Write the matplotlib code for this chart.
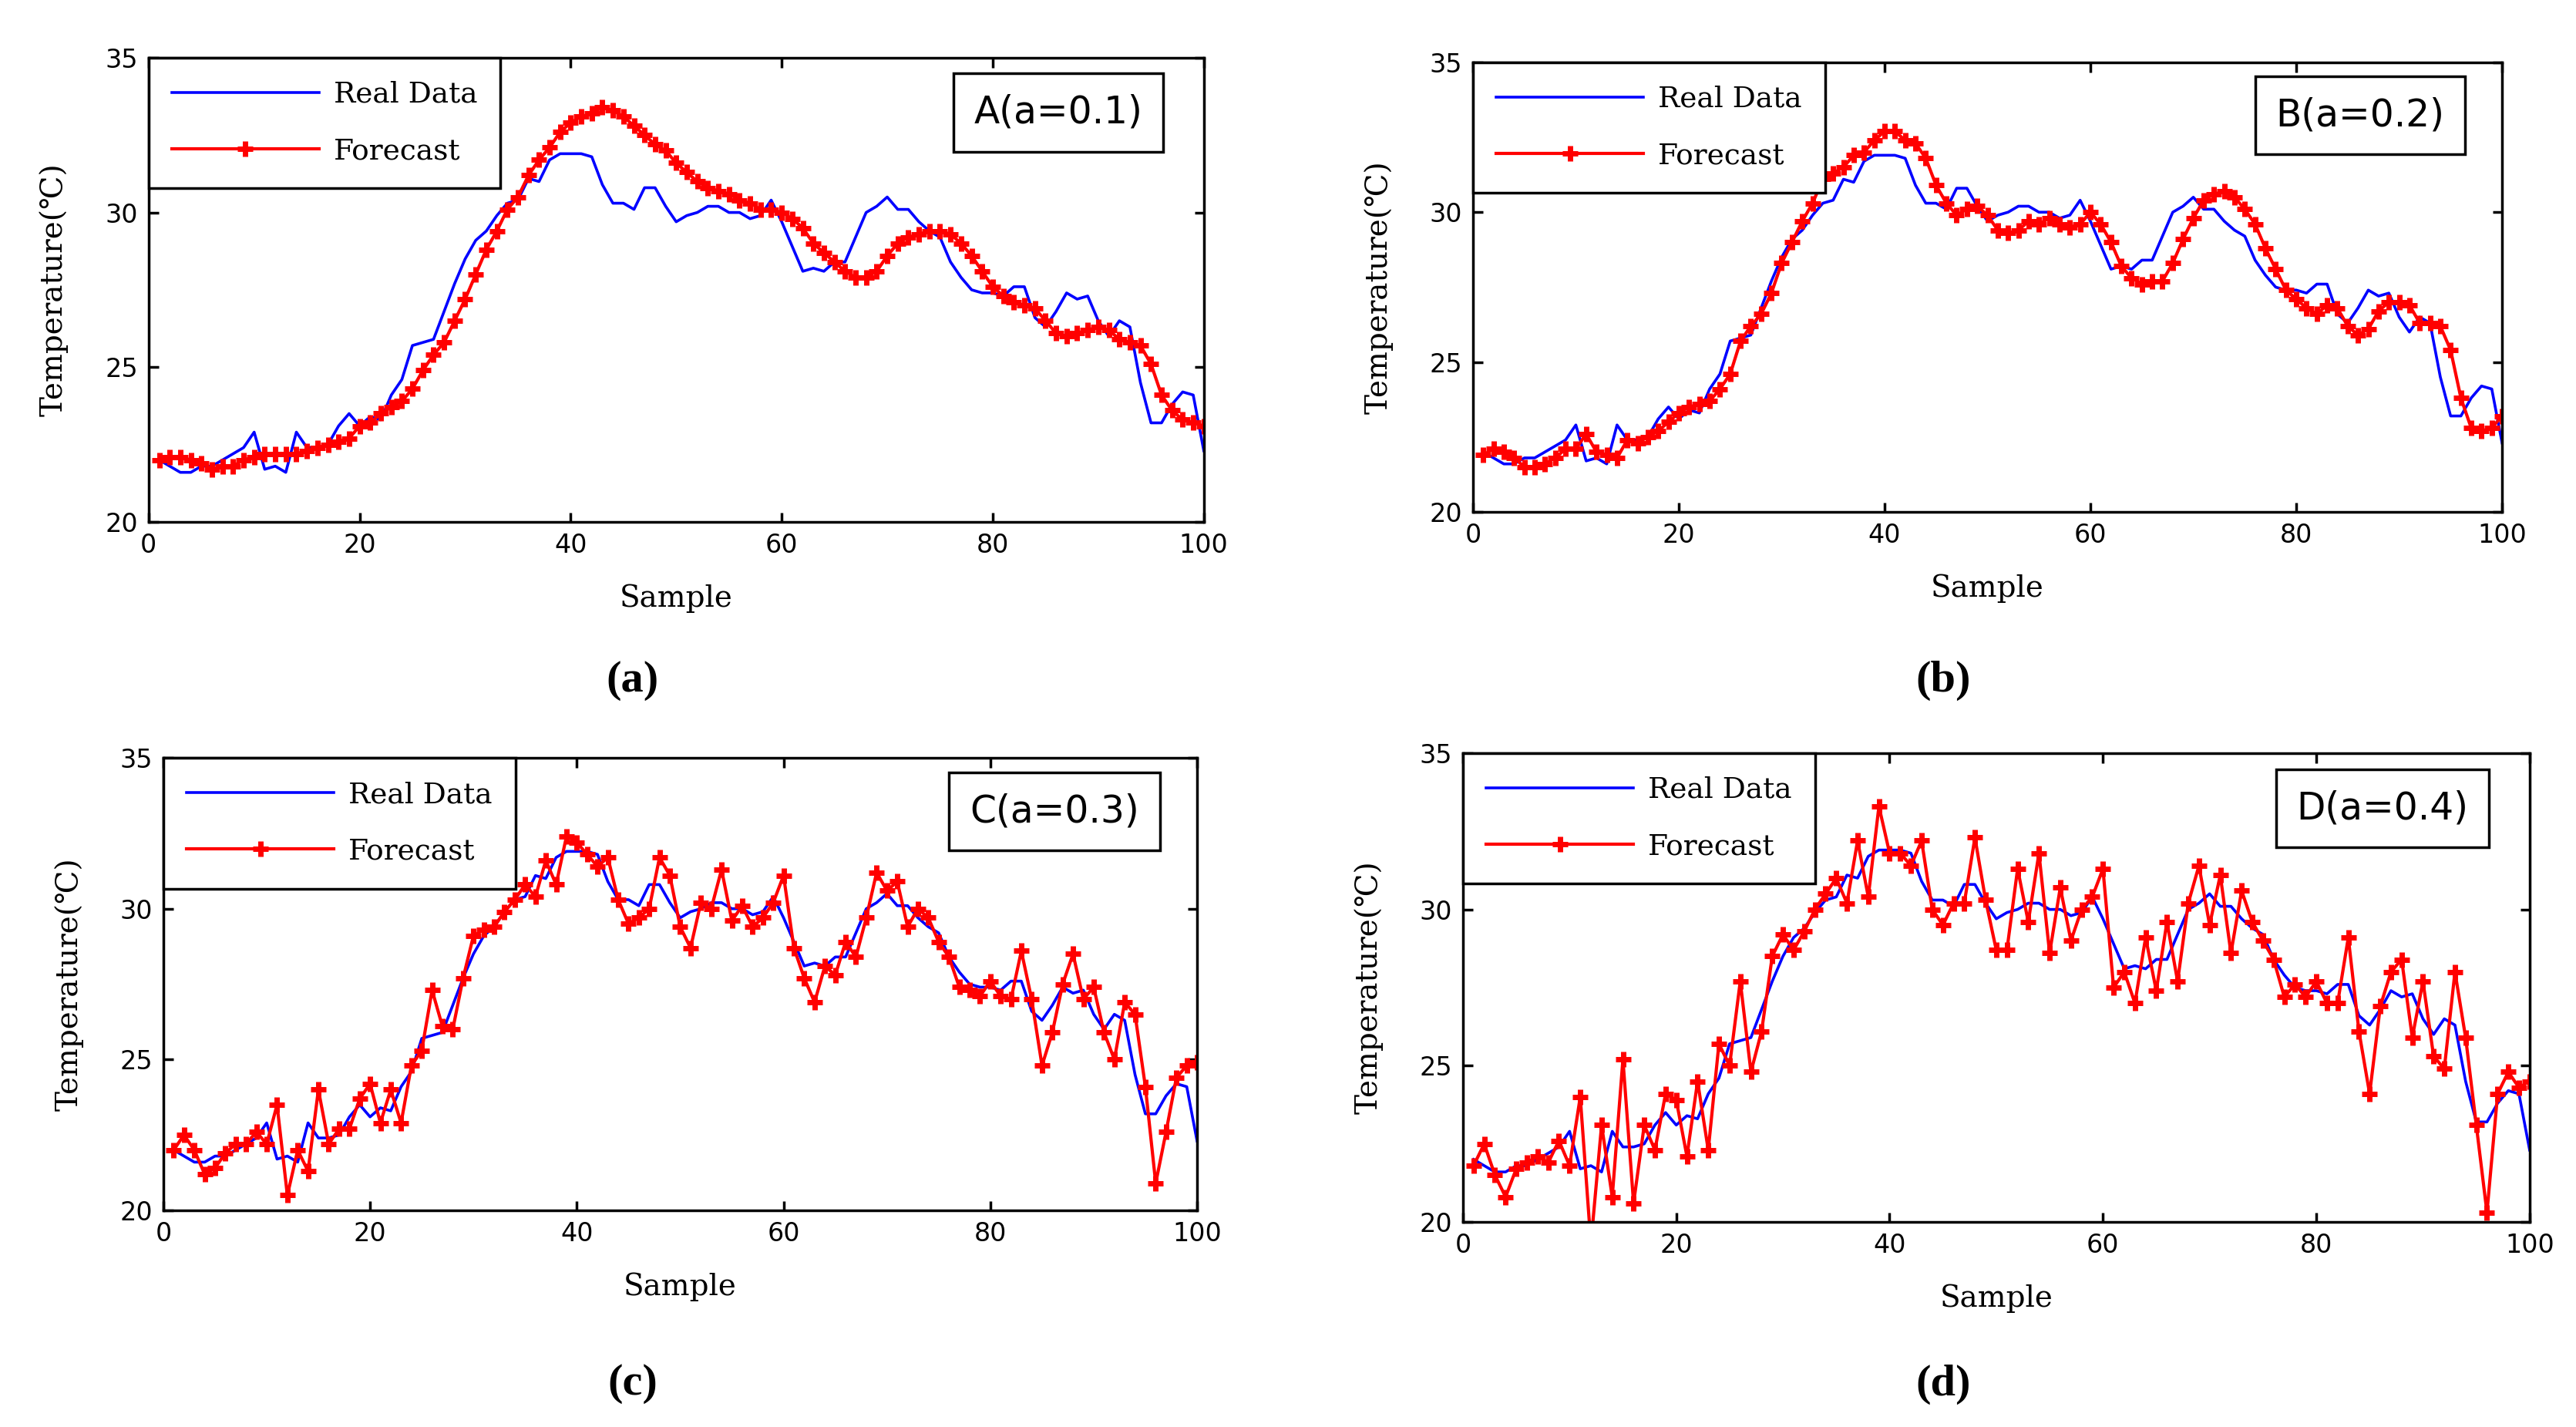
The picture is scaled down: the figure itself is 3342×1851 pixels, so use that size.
import numpy as np
import matplotlib
matplotlib.use("Agg")
import matplotlib.pyplot as plt

sample = np.arange(1, 101)

real_data = [
    22.0, 21.8, 21.6, 21.6, 21.8, 21.8, 22.0, 22.2, 22.4, 22.9,
    21.7, 21.8, 21.6, 22.9, 22.4, 22.4, 22.5, 23.1, 23.5, 23.1,
    23.4, 23.3, 24.1, 24.6, 25.7, 25.8, 25.9, 26.8, 27.7, 28.5,
    29.1, 29.4, 29.9, 30.3, 30.4, 31.1, 31.0, 31.7, 31.9, 31.9,
    31.9, 31.8, 30.9, 30.3, 30.3, 30.1, 30.8, 30.8, 30.2, 29.7,
    29.9, 30.0, 30.2, 30.2, 30.0, 30.0, 29.8, 29.9, 30.4, 29.7,
    28.9, 28.1, 28.2, 28.1, 28.4, 28.4, 29.2, 30.0, 30.2, 30.5,
    30.1, 30.1, 29.7, 29.4, 29.2, 28.4, 27.9, 27.5, 27.4, 27.4,
    27.3, 27.6, 27.6, 26.6, 26.3, 26.8, 27.4, 27.2, 27.3, 26.5,
    26.0, 26.5, 26.3, 24.5, 23.2, 23.2, 23.8, 24.2, 24.1, 22.3,
]

forecast_a = [
    22.0, 22.1, 22.1, 22.0, 21.9, 21.7, 21.8, 21.8, 22.0, 22.1,
    22.2, 22.2, 22.2, 22.2, 22.3, 22.4, 22.5, 22.6, 22.7, 23.1,
    23.2, 23.5, 23.7, 23.9, 24.3, 24.9, 25.4, 25.8, 26.5, 27.2,
    28.0, 28.8, 29.4, 30.1, 30.5, 31.2, 31.7, 32.1, 32.6, 32.9,
    33.1, 33.2, 33.4, 33.3, 33.1, 32.8, 32.5, 32.2, 32.0, 31.6,
    31.3, 31.0, 30.8, 30.7, 30.6, 30.4, 30.3, 30.1, 30.1, 30.0,
    29.8, 29.5, 29.0, 28.7, 28.4, 28.1, 27.9, 27.9, 28.1, 28.6,
    29.0, 29.2, 29.3, 29.4, 29.4, 29.3, 29.0, 28.6, 28.1, 27.6,
    27.3, 27.1, 27.0, 26.9, 26.5, 26.1, 26.0, 26.1, 26.2, 26.3,
    26.2, 25.9, 25.8, 25.7, 25.1, 24.1, 23.6, 23.3, 23.2, 23.1,
]

forecast_b = [
    21.9, 22.1, 22.0, 21.8, 21.5, 21.5, 21.6, 21.8, 22.1, 22.1,
    22.6, 22.0, 21.9, 21.8, 22.4, 22.3, 22.5, 22.7, 23.0, 23.3,
    23.5, 23.6, 23.7, 24.1, 24.6, 25.7, 26.2, 26.6, 27.3, 28.3,
    29.0, 29.7, 30.3, 31.1, 31.3, 31.5, 31.9, 32.0, 32.4, 32.7,
    32.7, 32.4, 32.3, 31.8, 30.9, 30.3, 29.9, 30.1, 30.2, 29.9,
    29.4, 29.3, 29.4, 29.7, 29.6, 29.8, 29.6, 29.5, 29.6, 30.0,
    29.6, 29.0, 28.2, 27.8, 27.6, 27.7, 27.7, 28.3, 29.1, 29.8,
    30.4, 30.6, 30.7, 30.5, 30.1, 29.6, 28.8, 28.1, 27.4, 27.1,
    26.8, 26.6, 26.9, 26.8, 26.2, 25.9, 26.1, 26.7, 27.0, 27.0,
    26.9, 26.3, 26.3, 26.2, 25.4, 23.8, 22.8, 22.7, 22.8, 23.2,
]

forecast_c = [
    22.0, 22.5, 22.0, 21.2, 21.4, 21.9, 22.2, 22.2, 22.6, 22.2,
    23.5, 20.5, 22.0, 21.3, 24.0, 22.2, 22.7, 22.7, 23.7, 24.2,
    22.9, 24.0, 22.9, 24.8, 25.3, 27.3, 26.1, 26.0, 27.7, 29.1,
    29.3, 29.4, 29.9, 30.3, 30.8, 30.4, 31.6, 30.8, 32.4, 32.2,
    31.8, 31.4, 31.7, 30.3, 29.5, 29.7, 30.0, 31.7, 31.1, 29.4,
    28.7, 30.2, 30.0, 31.3, 29.6, 30.1, 29.4, 29.7, 30.2, 31.1,
    28.7, 27.7, 26.9, 28.1, 27.8, 28.9, 28.4, 29.7, 31.2, 30.6,
    30.9, 29.4, 30.0, 29.7, 28.9, 28.4, 27.4, 27.3, 27.1, 27.6,
    27.1, 27.0, 28.6, 27.0, 24.8, 25.9, 27.5, 28.5, 27.0, 27.4,
    25.9, 25.0, 26.9, 26.5, 24.1, 20.9, 22.6, 24.4, 24.8, 24.9,
]

forecast_d = [
    21.8, 22.5, 21.5, 20.8, 21.7, 21.9, 22.1, 21.9, 22.6, 21.8,
    24.0, 19.3, 23.1, 20.8, 25.2, 20.6, 23.1, 22.3, 24.1, 23.9,
    22.1, 24.5, 22.3, 25.7, 25.0, 27.7, 24.8, 26.1, 28.5, 29.2,
    28.7, 29.3, 30.0, 30.5, 31.0, 30.2, 32.2, 30.4, 33.3, 31.8,
    31.8, 31.4, 32.2, 30.0, 29.5, 30.2, 30.2, 32.3, 30.3, 28.7,
    28.7, 31.3, 29.6, 31.8, 28.6, 30.7, 29.0, 30.0, 30.4, 31.3,
    27.5, 28.0, 27.0, 29.1, 27.4, 29.6, 27.7, 30.2, 31.4, 29.5,
    31.1, 28.6, 30.6, 29.6, 29.0, 28.4, 27.2, 27.6, 27.2, 27.7,
    27.0, 27.0, 29.1, 26.1, 24.1, 26.9, 28.0, 28.4, 25.9, 27.7,
    25.3, 24.9, 28.0, 25.9, 23.1, 20.3, 24.1, 24.8, 24.3, 24.5,
]

panels = [
    ("A(a=0.1)", "(a)", forecast_a),
    ("B(a=0.2)", "(b)", forecast_b),
    ("C(a=0.3)", "(c)", forecast_c),
    ("D(a=0.4)", "(d)", forecast_d),
]

positions = [
    [0.0577, 0.6343, 0.4096, 0.3252],
    [0.5718, 0.6413, 0.3995, 0.3150],
    [0.0634, 0.1518, 0.4013, 0.3171],
    [0.5679, 0.1437, 0.4141, 0.3285],
]
label_xy = [(0.2455, 0.523), (0.7543, 0.523), (0.2455, 0.030), (0.7543, 0.030)]

serif = ["DejaVu Serif", "DejaVu Sans"]
sans = ["DejaVu Sans"]

fig = plt.figure(figsize=(33.42, 18.51), dpi=100)

for (tag, letter, forecast), pos, lxy in zip(panels, positions, label_xy):
    ax = fig.add_axes(pos)
    ax.plot(sample, real_data, color="blue", linewidth=2.6, label="Real Data")
    ax.plot(sample, forecast, color="red", linewidth=3.0, marker="+",
            markersize=14, markeredgewidth=5, label="Forecast")

    ax.set_xlim(0, 100)
    ax.set_ylim(20, 35)
    ax.set_xticks([0, 20, 40, 60, 80, 100])
    ax.set_yticks([20, 25, 30, 35])
    ax.tick_params(direction="in", length=9, width=2.5, top=True, right=True,
                   labelsize=24, pad=10)
    for lab in ax.get_xticklabels() + ax.get_yticklabels():
        lab.set_family(sans)
    for sp in ax.spines.values():
        sp.set_linewidth(2.5)

    ax.set_xlabel("Sample", fontsize=28, family=serif, labelpad=24)
    ax.set_ylabel("Temperature(\u2103)", fontsize=28, family=serif, labelpad=34)

    leg = ax.legend(loc="upper left", bbox_to_anchor=(0, 1), borderaxespad=0,
                    fancybox=False, edgecolor="black", framealpha=1,
                    prop={"family": serif, "size": 27}, handlelength=5.1,
                    handletextpad=0.5, labelspacing=1.0, borderpad=0.8)
    leg.get_frame().set_linewidth(2.5)

    ax.text(0.862, 0.882, tag, transform=ax.transAxes, ha="center", va="center",
            fontsize=35, family=sans,
            bbox=dict(boxstyle="square,pad=0.55", facecolor="white",
                      edgecolor="black", linewidth=2.5))

    fig.text(lxy[0], lxy[1], letter, ha="center", va="center", fontsize=42,
             fontweight="bold", family=["Liberation Serif", "DejaVu Serif"])

fig.savefig("out.png", dpi=100)
plt.close(fig)
